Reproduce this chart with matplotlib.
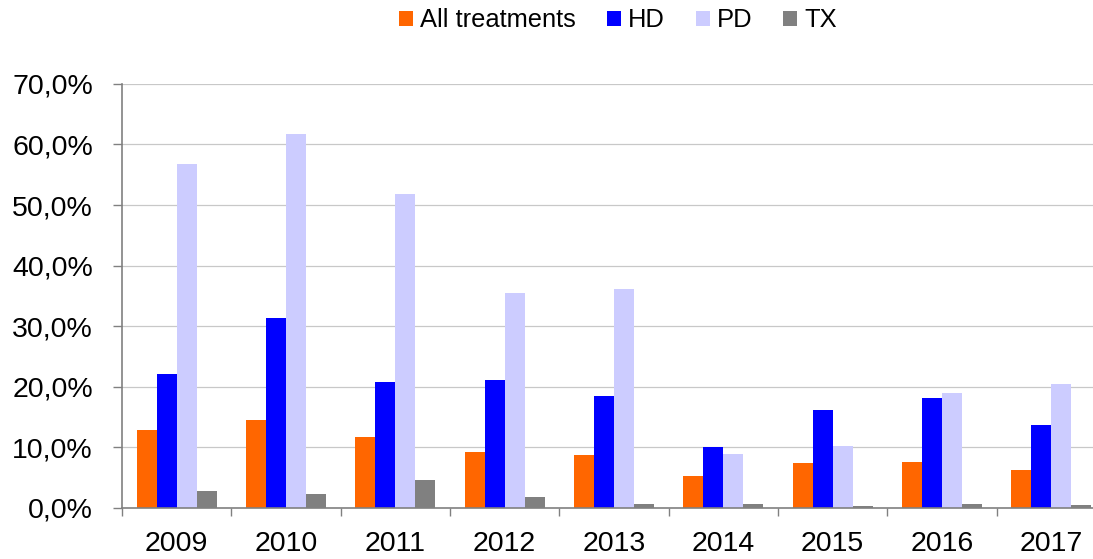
"""Grouped bars: share per treatment, 2009-2017."""
import numpy as np
import matplotlib
matplotlib.use("Agg")
import matplotlib.pyplot as plt

plt.rcParams["font.family"] = ["Liberation Sans", "DejaVu Sans"]

YEARS = ["2009", "2010", "2011", "2012", "2013", "2014", "2015", "2016", "2017"]
ALL_TREAT = [12.8, 14.5, 11.7, 9.2, 8.7, 5.3, 7.4, 7.6, 6.2]
HD        = [22.1, 31.4, 20.7, 21.1, 18.4, 10.1, 16.1, 18.2, 13.6]
PD        = [56.8, 61.8, 51.9, 35.5, 36.1, 8.9, 10.2, 19.0, 20.4]
TX        = [2.7, 2.3, 4.5, 1.8, 0.55, 0.55, 0.35, 0.55, 0.45]

SERIES = [("All treatments", ALL_TREAT, "#FF6600"),
          ("HD", HD, "#0000FF"),
          ("PD", PD, "#CCCCFF"),
          ("TX", TX, "#808080")]

AXIS_COL = "#808080"
GRID_COL = "#C8C8C8"

fig = plt.figure(figsize=(10.93, 5.59), dpi=100, facecolor="white")
# right edge runs slightly past the canvas, as in the source image
ax = fig.add_axes([0.1116, 0.0918, 0.9003, 0.758])

x = np.arange(len(YEARS))
bw = 0.183
for i, (name, vals, col) in enumerate(SERIES):
    ax.bar(x + (i - 1.5) * bw, vals, width=bw, color=col, label=name,
           linewidth=0, zorder=3)

ax.set_xlim(-0.5, len(YEARS) - 0.5)
ax.set_ylim(0, 70)
ax.set_yticks(np.arange(0, 71, 10))
ax.set_yticklabels([f"{v},0%" for v in range(0, 71, 10)])
ax.yaxis.grid(True, color=GRID_COL, linewidth=0.9, zorder=0)
ax.set_axisbelow(True)

# ticks at category boundaries, labels at centres
ax.set_xticks(np.arange(len(YEARS) + 1) - 0.5)
ax.set_xticklabels([])
ax.set_xticks(x, minor=True)
ax.set_xticklabels(YEARS, minor=True)
ax.tick_params(axis="x", which="major", length=6, width=1, color=AXIS_COL, direction="out")
ax.tick_params(axis="x", which="minor", length=0, pad=16.5, labelsize=20.5)
ax.tick_params(axis="y", length=6.5, width=1, color=AXIS_COL, pad=14.5, labelsize=20.5)

for s in ("top", "right"):
    ax.spines[s].set_visible(False)
for s in ("left", "bottom"):
    ax.spines[s].set_color(AXIS_COL)
    ax.spines[s].set_linewidth(1.2)
    ax.spines[s].set_zorder(4)

fig.legend(loc="center", bbox_to_anchor=(0.5654, 0.9637), ncol=4, frameon=False,
           fontsize=18.4, handlelength=0.55, handleheight=0.55,
           handletextpad=0.26, columnspacing=1.22, borderpad=0, borderaxespad=0)

fig.savefig("out.png", dpi=100, facecolor=fig.get_facecolor())
